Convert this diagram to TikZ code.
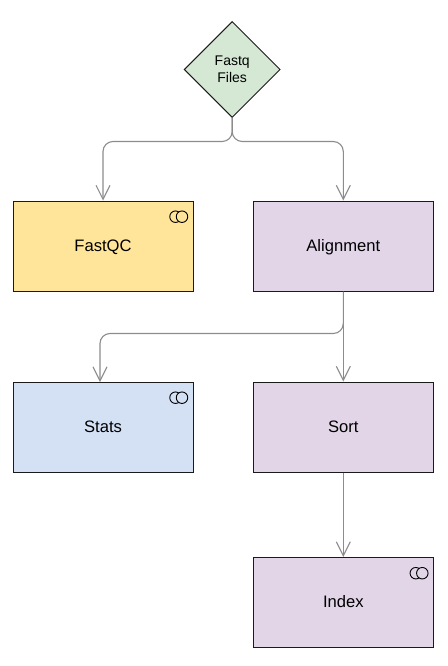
\documentclass[tikz,border=0pt]{standalone}
\usepackage{fontspec}
\setmainfont{Liberation Sans}
\usetikzlibrary{arrows.meta,shapes.geometric}
\definecolor{boxline}{HTML}{1A1A1A}
\definecolor{flowgray}{HTML}{8C8C8C}
\definecolor{yellowfill}{HTML}{FFE599}
\definecolor{purplefill}{HTML}{E1D5E7}
\definecolor{bluefill}{HTML}{D4E1F5}
\definecolor{greenfill}{HTML}{D5E8D4}
\tikzset{
  procbox/.style={draw=boxline,line width=1pt,minimum width=180pt,minimum height=90pt,inner sep=0pt,text height=12pt,text depth=1.6pt,font=\fontsize{16.6}{18}\selectfont},
  decision/.style={diamond,aspect=1,draw=boxline,line width=1pt,fill=greenfill,minimum width=96pt,minimum height=96pt,inner sep=0pt,align=center,font=\fontsize{14}{17}\selectfont},
  flow/.style={draw=flowgray,line width=1.1pt,rounded corners=10pt,-{Straight Barb[length=14pt,width=14pt,line width=1.1pt]}},
  ring/.style={draw=black,line width=0.9pt,circle,minimum size=11.5pt,inner sep=0pt},
}
\newcommand{\linkmark}[2]{%
  \node[ring] at ([xshift=-18pt,yshift=-16.2pt]#1.north east) {};
  \node[ring,fill=#2] at ([xshift=-11.5pt,yshift=-16.2pt]#1.north east) {};
}
\begin{document}
\begin{tikzpicture}[x=1pt,y=-1pt]
\useasboundingbox (0,0) rectangle (447,666);
\node[decision] (fastq) at (232.2,69.5) {Fastq\\Files};
\node[procbox,fill=yellowfill] (fastqc) at (103,246) {FastQC};
\node[procbox,fill=purplefill] (align) at (343.3,246) {Alignment};
\node[procbox,fill=bluefill] (stats) at (103,427) {Stats};
\node[procbox,fill=purplefill] (sort) at (343.3,427) {Sort};
\node[procbox,fill=purplefill] (index) at (343.3,602.5) {Index};
\linkmark{fastqc}{yellowfill}
\linkmark{stats}{bluefill}
\linkmark{index}{purplefill}
\coordinate (j) at (232.2,141.5);
\coordinate (k) at (343.3,333.5);
\coordinate (statsin) at (100,382);
\draw[flow] (fastq.south) -- (j) -| (fastqc.north);
\draw[flow] (fastq.south) -- (j) -| (align.north);
\draw[flow] (align.south) -- (k) -| (statsin);
\draw[flow] (align.south) -- (sort.north);
\draw[flow] (sort.south) -- (index.north);
\end{tikzpicture}
\end{document}
